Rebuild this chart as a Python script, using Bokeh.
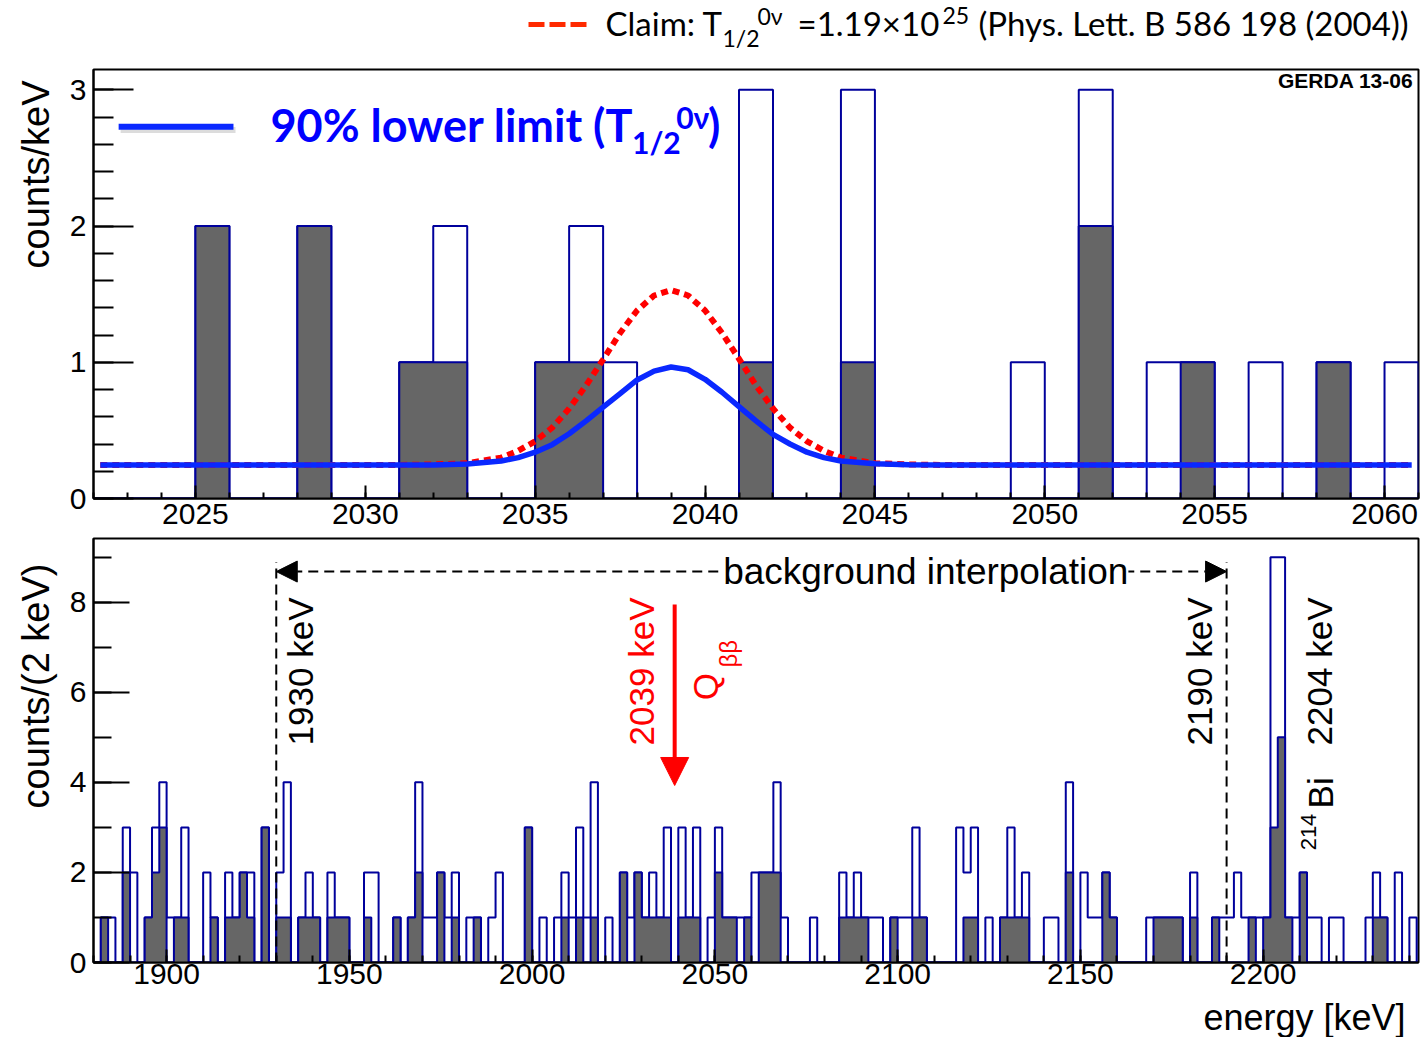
import numpy as np
from bokeh.plotting import figure
from bokeh.layouts import column
from bokeh.models import Range1d, SingleIntervalTicker, Label, Arrow, NormalHead, Title
from bokeh.embed import file_html
from bokeh.resources import INLINE

# ---------------- data ----------------
# Fine spectrum around Q_bb: 1 keV bins starting at 2022 keV
fine_start_kev = 2022
fine_bin_kev = 1
fine_all_events = [0, 0, 0, 2, 0, 0, 2, 0, 0, 1, 2, 0, 0, 1, 2, 1, 0, 0, 0, 3,
                   0, 0, 3, 0, 0, 0, 0, 1, 0, 3, 0, 1, 1, 0, 1, 0, 1, 0, 1]
fine_psd_events = [0, 0, 0, 2, 0, 0, 2, 0, 0, 1, 1, 0, 0, 1, 1, 0, 0, 0, 0, 1,
                   0, 0, 1, 0, 0, 0, 0, 0, 0, 2, 0, 0, 1, 0, 0, 0, 1, 0, 0]

# Expected spectra (counts/keV): 90% lower limit and the 2004 claim
curve_kev = [2022.2, 2031.0, 2032.0, 2033.0, 2034.0, 2034.5, 2035.0, 2035.5, 2036.0,
             2036.5, 2037.0, 2037.5, 2038.0, 2038.5, 2039.0, 2039.5, 2040.0, 2040.5,
             2041.0, 2041.5, 2042.0, 2042.5, 2043.0, 2043.5, 2044.0, 2045.0, 2046.0,
             2047.0, 2060.8]
limit_curve = [0.245, 0.245, 0.246, 0.253, 0.275, 0.30, 0.34, 0.395, 0.475,
               0.57, 0.67, 0.77, 0.87, 0.935, 0.965, 0.945, 0.875, 0.78,
               0.675, 0.57, 0.47, 0.40, 0.34, 0.30, 0.275, 0.255, 0.248,
               0.245, 0.245]
claim_curve = [0.245, 0.246, 0.250, 0.259, 0.30, 0.35, 0.42, 0.52, 0.66,
               0.83, 1.02, 1.215, 1.38, 1.49, 1.53, 1.49, 1.38, 1.215,
               1.025, 0.83, 0.66, 0.52, 0.42, 0.35, 0.30, 0.259, 0.25,
               0.246, 0.245]

# Wide spectrum: 2 keV bins starting at 1880 keV
wide_start_kev = 1880
wide_bin_kev = 2
wide_all_events = [
    0, 1, 1, 0, 3, 2, 0, 1, 3, 4,
    1, 1, 3, 0, 0, 2, 1, 0, 2, 1,
    2, 2, 0, 3, 0, 2, 4, 0, 1, 2,
    1, 0, 2, 1, 1, 0, 0, 2, 2, 0,
    0, 1, 0, 1, 4, 1, 1, 2, 1, 2,
    0, 1, 1, 0, 1, 2, 0, 0, 0, 3,
    0, 1, 0, 1, 2, 1, 3, 1, 4, 0,
    1, 0, 2, 1, 2, 1, 2, 1, 3, 0,
    3, 1, 3, 0, 1, 3, 1, 1, 1, 1,
    2, 2, 2, 4, 1, 0, 0, 0, 1, 0,
    0, 0, 2, 1, 2, 1, 1, 1, 0, 1,
    1, 1, 3, 1, 0, 0, 0, 0, 3, 2,
    3, 0, 1, 0, 1, 3, 1, 2, 0, 0,
    1, 1, 0, 4, 0, 2, 1, 1, 2, 1,
    0, 0, 0, 0, 1, 1, 1, 1, 1, 0,
    2, 0, 0, 1, 1, 1, 2, 1, 1, 1,
    1, 9, 9, 1, 1, 2, 1, 1, 0, 1,
    1, 0, 0, 0, 1, 2, 1, 0, 2, 0, 1]
wide_psd_events = [
    0, 1, 0, 0, 2, 0, 0, 1, 2, 3,
    0, 1, 1, 0, 0, 0, 1, 0, 1, 1,
    2, 1, 0, 3, 0, 1, 1, 0, 1, 1,
    1, 0, 1, 1, 1, 0, 0, 1, 0, 0,
    0, 1, 0, 1, 2, 0, 0, 2, 0, 1,
    0, 0, 1, 0, 0, 0, 0, 0, 0, 3,
    0, 0, 0, 0, 1, 0, 1, 0, 1, 0,
    0, 0, 2, 0, 2, 1, 1, 1, 1, 0,
    1, 1, 1, 0, 0, 2, 1, 1, 0, 1,
    0, 2, 2, 2, 0, 0, 0, 0, 0, 0,
    0, 0, 1, 1, 1, 1, 0, 0, 0, 1,
    0, 0, 1, 1, 0, 0, 0, 0, 0, 1,
    1, 0, 0, 0, 1, 1, 1, 1, 0, 0,
    0, 0, 0, 2, 0, 0, 0, 0, 2, 1,
    0, 0, 0, 0, 0, 1, 1, 1, 1, 0,
    1, 0, 0, 1, 0, 0, 0, 0, 1, 0,
    1, 3, 5, 1, 0, 2, 0, 0, 0, 0,
    0, 0, 0, 0, 0, 1, 1, 0, 0, 0, 0]

q_bb_kev = 2039
window_kev = (1930, 2190)

# ---------------- style ----------------
NAVY = "#00009c"
FILL = "#666666"
BLUE = "#0a28ff"
TEXT_BLUE = "#0000ff"
RED = "#ff0000"
SANS = "Liberation Sans"
CAL = "Lato"
W = 1420
LEFT, RIGHT = 93, 2


def step_outline(start, width, counts):
    edges = start + width * np.arange(len(counts) + 1)
    xs, ys = [edges[0]], [0]
    for i, c in enumerate(counts):
        xs += [edges[i], edges[i + 1]]
        ys += [c, c]
    xs.append(edges[-1])
    ys.append(0)
    return xs, ys


def draw_histograms(p, start, width, all_counts, psd_counts):
    xa, ya = step_outline(start, width, all_counts)
    p.line(xa, ya, line_color=NAVY, line_width=2)
    xg, yg = step_outline(start, width, psd_counts)
    p.patch(xg, yg, fill_color=FILL, line_alpha=0)
    p.line(xg, yg, line_color=NAVY, line_width=2)


def style_axes(p, x_interval, x_minor, y_interval, y_minor, x_in, y_in, x_standoff):
    p.grid.visible = False
    p.outline_line_color = "black"
    p.outline_line_width = 2
    p.background_fill_color = "white"
    p.border_fill_color = "white"
    p.xaxis.ticker = SingleIntervalTicker(interval=x_interval, num_minor_ticks=x_minor)
    p.yaxis.ticker = SingleIntervalTicker(interval=y_interval, num_minor_ticks=y_minor)
    for ax, (maj, mnr), standoff in ((p.xaxis, x_in, x_standoff), (p.yaxis, y_in, 7)):
        ax.axis_line_color = "black"
        ax.axis_line_width = 2
        ax.major_tick_in = maj
        ax.major_tick_out = 0
        ax.minor_tick_in = mnr
        ax.minor_tick_out = 0
        ax.major_tick_line_color = "black"
        ax.minor_tick_line_color = "black"
        ax.major_tick_line_width = 2
        ax.minor_tick_line_width = 2
        ax.major_label_text_font = SANS
        ax.major_label_text_font_size = "30px"
        ax.major_label_text_color = "black"
        ax.major_label_standoff = standoff


def label(p, x, y, text, size, font=SANS, color="black", align="left",
          baseline="middle", angle=0.0, style="normal", bg=None):
    lab = Label(x=x, y=y, text=text, text_font=font, text_font_size=f"{size}px",
                text_color=color, text_align=align, text_baseline=baseline,
                angle=angle, text_font_style=style)
    if bg is not None:
        lab.background_fill_color = bg
    p.add_layout(lab)


def strip(height):
    # plain text band; x in page pixels across the panel frames
    s = figure(width=W, height=height, x_range=Range1d(LEFT, W - RIGHT),
               y_range=Range1d(0, height), output_backend="svg", toolbar_location=None,
               x_axis_location=None, y_axis_location=None,
               min_border_left=LEFT, min_border_right=RIGHT,
               min_border_top=0, min_border_bottom=0)
    s.grid.visible = False
    s.outline_line_color = None
    s.background_fill_color = "white"
    s.border_fill_color = "white"
    return s


def y_title(p, text, shift):
    p.add_layout(Title(text=text, align="right", offset=shift, text_font=SANS,
                       text_font_size="38px", text_font_style="normal",
                       text_color="black", standoff=20), "left")


# ---------------- headline ----------------
head = strip(68)
head.add_layout(Arrow(end=None, start=None, x_start=528, x_end=588, y_start=44, y_end=44,
                      line_color="#ff2a00", line_width=5, line_dash="16 5"))
label(head, 605, 46, "Claim: T", 33, CAL)
label(head, 722, 31, "1/2", 23, CAL)
label(head, 757, 53, "0ν", 23, CAL)
label(head, 797, 46, "=1.19×10", 33, CAL)
label(head, 942, 53, "25", 23, CAL)
label(head, 1408, 46, "(Phys. Lett. B 586 198 (2004))", 33, CAL, align="right")

# ---------------- upper panel: 1 keV bins ----------------
top = figure(width=W, height=469, x_range=Range1d(2022, 2061),
             y_range=Range1d(0, 3.149), output_backend="svg", toolbar_location=None,
             min_border_left=LEFT, min_border_right=RIGHT, min_border_top=1,
             min_border_bottom=39)
style_axes(top, 5, 5, 1, 5, (13, 6), (40, 20), 5)
y_title(top, "counts/keV", 11)
draw_histograms(top, fine_start_kev, fine_bin_kev, fine_all_events, fine_psd_events)
top.line(curve_kev, claim_curve, line_color=RED, line_width=6, line_dash="7 5")
top.line(curve_kev, limit_curve, line_color=BLUE, line_width=5.5)

# legend swatch and text
top.line([2022.80, 2026.18], [2.705, 2.705], line_color="#9a9a9a", line_width=6, line_alpha=0.35)
top.line([2022.74, 2026.12], [2.729, 2.729], line_color=BLUE, line_width=6)
label(top, 2027.21, 2.738, "90% lower limit (T", 45, CAL, TEXT_BLUE, style="bold")
label(top, 2037.85, 2.617, "1/2", 30, CAL, TEXT_BLUE, style="bold")
label(top, 2039.15, 2.800, "0ν", 30, CAL, TEXT_BLUE, style="bold")
label(top, 2040.09, 2.738, ")", 45, CAL, TEXT_BLUE, style="bold")
label(top, 2060.85, 3.068, "GERDA 13-06", 21, SANS, align="right", style="bold")

# ---------------- lower panel: 2 keV bins ----------------
bot = figure(width=W, height=460, x_range=Range1d(1880, 2242.5),
             y_range=Range1d(0, 9.414), output_backend="svg", toolbar_location=None,
             min_border_left=LEFT, min_border_right=RIGHT, min_border_top=1,
             min_border_bottom=35)
style_axes(bot, 50, 5, 2, 2, (13, 7), (36, 18), 1)
y_title(bot, "counts/(2 keV)", 25)
draw_histograms(bot, wide_start_kev, wide_bin_kev, wide_all_events, wide_psd_events)

# background window
bot.segment(x0=list(window_kev), y0=[0, 0], x1=list(window_kev), y1=[8.89, 8.89],
            line_color="black", line_width=2, line_dash="10 6")
bot.add_layout(Arrow(start=NormalHead(size=21, fill_color="black", line_color="black"),
                     end=NormalHead(size=21, fill_color="black", line_color="black"),
                     x_start=window_kev[0], x_end=window_kev[1], y_start=8.68, y_end=8.68,
                     line_color="black", line_width=2, line_dash="10 6"))
label(bot, 2107.7, 8.68, "background interpolation", 37, align="center", bg="white")
label(bot, 1936.6, 4.82, "1930 keV", 35, angle=np.pi / 2)
label(bot, 2182.7, 4.82, "2190 keV", 35, angle=np.pi / 2)

# Q_bb marker
bot.add_layout(Arrow(end=NormalHead(size=28, fill_color=RED, line_color=RED),
                     x_start=q_bb_kev, y_start=7.95, x_end=q_bb_kev, y_end=3.93,
                     line_color=RED, line_width=4))
label(bot, 2030.0, 4.82, "2039 keV", 35, color=RED, angle=np.pi / 2)
label(bot, 2047.3, 5.82, "Q", 35, color=RED, angle=np.pi / 2)
label(bot, 2053.6, 6.55, "ββ", 24, color=RED, angle=np.pi / 2)

# Bi-214 line
label(bot, 2215.5, 4.82, "2204 keV", 35, angle=np.pi / 2)
label(bot, 2215.8, 3.42, "Bi", 35, angle=np.pi / 2)
label(bot, 2212.5, 2.49, "214", 22, angle=np.pi / 2)

# ---------------- x title ----------------
foot = strip(40)
label(foot, 1405, 20, "energy [keV]", 36, align="right")

layout = column(head, top, bot, foot, spacing=0)
open("out.html", "w").write(file_html(layout, INLINE))
